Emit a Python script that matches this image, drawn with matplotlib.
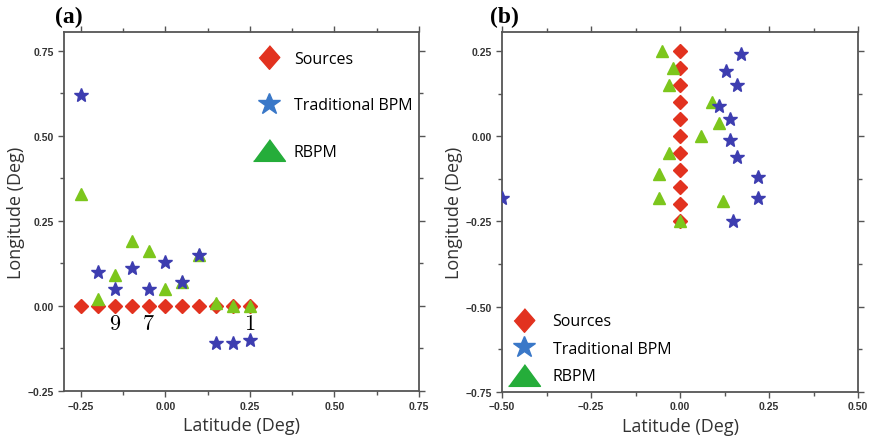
import matplotlib
matplotlib.use("Agg")
import matplotlib.pyplot as plt
from matplotlib.lines import Line2D
from matplotlib.ticker import MultipleLocator

# panel (a)
a_src_x = [-0.25, -0.2, -0.15, -0.1, -0.05, 0.0, 0.05, 0.1, 0.15, 0.2, 0.25]
a_src_y = [0.0] * 11
a_bpm_x = [-0.25, -0.2, -0.15, -0.1, -0.05, 0.0, 0.05, 0.1, 0.15, 0.2, 0.25]
a_bpm_y = [0.62, 0.10, 0.05, 0.11, 0.05, 0.13, 0.07, 0.15, -0.11, -0.11, -0.10]
a_rbpm_x = [-0.25, -0.2, -0.15, -0.1, -0.05, 0.0, 0.05, 0.1, 0.15, 0.2, 0.25]
a_rbpm_y = [0.33, 0.02, 0.09, 0.19, 0.16, 0.05, 0.07, 0.15, 0.01, 0.0, 0.0]
a_notes = [("9", -0.15), ("7", -0.05), ("1", 0.25)]

# panel (b)
b_src_x = [0.0] * 11
b_src_y = [0.25, 0.2, 0.15, 0.1, 0.05, 0.0, -0.05, -0.1, -0.15, -0.2, -0.25]
b_bpm_x = [0.17, 0.13, 0.16, 0.11, 0.14, 0.14, 0.16, 0.22, 0.22, -0.5, 0.15]
b_bpm_y = [0.24, 0.19, 0.15, 0.09, 0.05, -0.01, -0.06, -0.12, -0.18, -0.18, -0.25]
b_rbpm_x = [-0.05, -0.02, -0.03, 0.09, 0.11, 0.06, -0.03, -0.06, -0.06, 0.12, 0.0]
b_rbpm_y = [0.25, 0.20, 0.15, 0.10, 0.04, 0.0, -0.05, -0.11, -0.18, -0.19, -0.25]

RED = "#e2321f"
STAR = "#3d3db0"
TRI = "#7cc61c"
LEG_STAR = "#3a78c8"
LEG_TRI = "#25ad3a"
SANS = ["Open Sans", "DejaVu Sans"]

flat_tri = [(-1, -0.68), (1, -0.68), (0, 0.68)]
tall_dia = [(0, 1), (0.87, 0), (0, -1), (-0.87, 0)]

fig = plt.figure(figsize=(8.73, 4.39), dpi=100)
ax1 = fig.add_axes([64 / 873, 1 - 392 / 439, 355 / 873, 359 / 439])
ax2 = fig.add_axes([502 / 873, 1 - 392.7 / 439, 356 / 873, 359.4 / 439])


def style(ax, xlim, ylim, xt, yt):
    ax.set_xlim(*xlim)
    ax.set_ylim(*ylim)
    ax.set_xticks(xt)
    ax.set_yticks(yt)
    ax.xaxis.set_minor_locator(MultipleLocator(0.125))
    ax.yaxis.set_minor_locator(MultipleLocator(0.125))
    ax.tick_params(which="both", direction="out", top=True, right=True,
                   color="#555555", width=1)
    ax.tick_params(which="major", length=4, labelsize=7.5, pad=3)
    ax.tick_params(which="minor", length=3)
    for lab in ax.get_xticklabels() + ax.get_yticklabels():
        lab.set_fontweight("bold")
        lab.set_fontfamily(["Liberation Sans", "DejaVu Sans"])
        lab.set_color("#333333")
    for s in ax.spines.values():
        s.set_color("#555555")
        s.set_linewidth(1.3)
    ax.set_xlabel("Latitude (Deg)", fontsize=13, family=SANS, color="#333333", labelpad=4)
    ax.set_ylabel("Longitude (Deg)", fontsize=13, family=SANS, color="#333333", labelpad=2)


def plot_points(ax, sx, sy, bx, by, rx, ry):
    ax.plot(sx, sy, linestyle="none", marker="D", ms=7.5, color=RED, zorder=3)
    ax.plot(rx, ry, linestyle="none", marker="^", ms=8, color=TRI, zorder=4)
    ax.plot(bx, by, linestyle="none", marker="*", ms=10, color=STAR, zorder=5)


def handles():
    return [
        Line2D([], [], linestyle="none", marker=tall_dia, ms=17, color=RED, label="Sources"),
        Line2D([], [], linestyle="none", marker="*", ms=16.5, color=LEG_STAR, label="Traditional BPM"),
        Line2D([], [], linestyle="none", marker=flat_tri, ms=23, color=LEG_TRI, label="RBPM"),
    ]


plot_points(ax1, a_src_x, a_src_y, a_bpm_x, a_bpm_y, a_rbpm_x, a_rbpm_y)
for txt, x in a_notes:
    ax1.text(x, -0.05, "$" + txt + "$", ha="center", va="center", fontsize=16,
             math_fontfamily="cm")
style(ax1, (-0.3, 0.75), (-0.25, 0.805),
      [-0.25, 0.0, 0.25, 0.5, 0.75], [-0.25, 0.0, 0.25, 0.5, 0.75])
leg1 = ax1.legend(handles=handles(), loc="upper left", bbox_to_anchor=(0.528, 0.947),
                  frameon=False, prop={"family": SANS, "size": 11.5},
                  labelspacing=1.9, handlelength=2.2, handletextpad=0.45,
                  borderpad=0, borderaxespad=0)

plot_points(ax2, b_src_x, b_src_y, b_bpm_x, b_bpm_y, b_rbpm_x, b_rbpm_y)
style(ax2, (-0.5, 0.5), (-0.75, 0.305),
      [-0.5, -0.25, 0.0, 0.25, 0.5], [-0.75, -0.5, -0.25, 0.0, 0.25])
leg2 = ax2.legend(handles=handles(), loc="lower left", bbox_to_anchor=(0.012, 0.021),
                  frameon=False, prop={"family": SANS, "size": 11.5},
                  labelspacing=0.72, handlelength=2.2, handletextpad=0.7,
                  borderpad=0, borderaxespad=0)

fig.text(55 / 873, 1 - 17 / 439, "(a)", fontsize=17, fontweight="bold",
         family=["Liberation Serif", "DejaVu Serif"], va="center")
fig.text(490 / 873, 1 - 17 / 439, "(b)", fontsize=17, fontweight="bold",
         family=["Liberation Serif", "DejaVu Serif"], va="center")

fig.savefig("out.png", dpi=100)
